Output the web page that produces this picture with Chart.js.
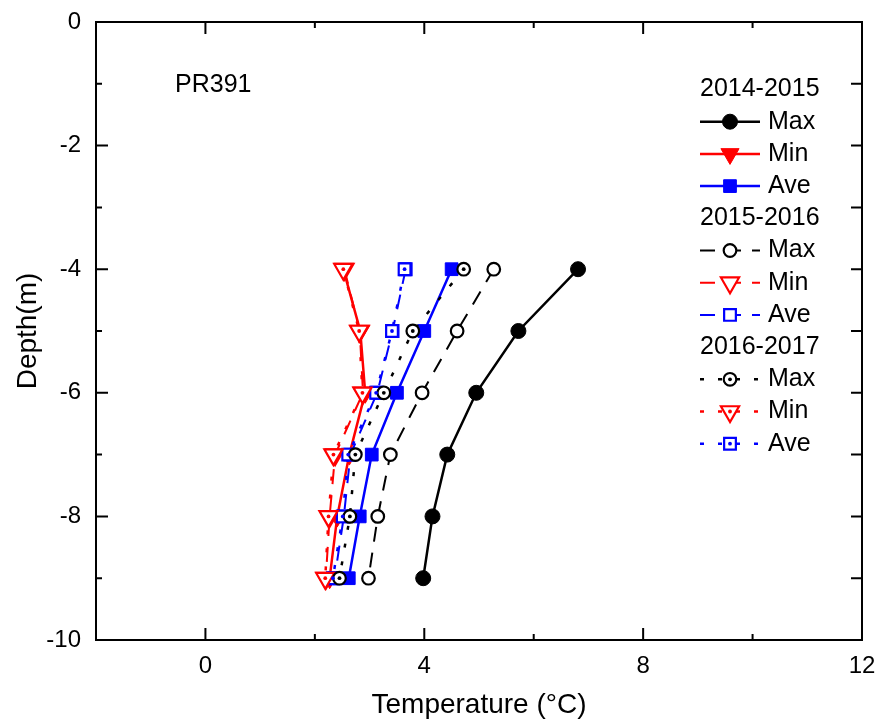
<!DOCTYPE html>
<html>
<head>
<meta charset="utf-8">
<title>PR391 ground temperature profile</title>
<script src="https://cdn.jsdelivr.net/npm/chart.js@4.4.1/dist/chart.umd.min.js"></script>
<style>
  html, body { margin: 0; padding: 0; background: #fff; }
  #wrap { width: 882px; height: 723px; }
</style>
</head>
<body>
<div id="wrap"><canvas id="profile" width="882" height="723"></canvas></div>
<script>
// depth of each sensor (m) and seasonal temperatures (°C)
const depths = [-4, -5, -6, -7, -8, -9];
const seasons = ['2014-2015', '2015-2016', '2016-2017'];
const statLabels = ['Max', 'Min', 'Ave'];
const site = 'PR391';

const max1415 = [6.81, 5.72, 4.95, 4.42, 4.15, 3.98];
const min1415 = [2.52, 2.83, 2.92, 2.63, 2.41, 2.27];
const ave1415 = [4.50, 4.00, 3.50, 3.04, 2.82, 2.62];

const max1516 = [5.27, 4.60, 3.96, 3.38, 3.15, 2.98];
const min1516 = [2.54, 2.82, 2.88, 2.37, 2.27, 2.20];
const ave1516 = [3.66, 3.42, 3.14, 2.65, 2.53, 2.36];

const max1617 = [4.72, 3.79, 3.26, 2.74, 2.64, 2.45];
const min1617 = [2.52, 2.81, 2.87, 2.34, 2.25, 2.19];
const ave1617 = [3.64, 3.41, 3.12, 2.61, 2.51, 2.33];

const FONT = "'Liberation Sans', Arial, sans-serif";
const colors = ['#000000', '#ff0000', '#0000ff'];

// per season: solid, dashed, dotted
const seasonDash = [[], [15, 11], [4, 14]];
const seasonWidth = [2.5, 2, 2.5];

// per statistic: circle, down triangle, square
const markerStyle = ['circle', 'triangle', 'rect'];
const markerRotation = [0, 180, 0];
const filledRadius = [7.5, 10.5, 9];
const openRadius = [6.3, 10.5, 8.3];

const series = [
  [max1415, min1415, ave1415],
  [max1516, min1516, ave1516],
  [max1617, min1617, ave1617]
];

const toPoints = vals => vals.map((v, i) => ({ x: v, y: depths[i] }));

const datasets = [];
series.forEach((group, s) => {
  group.forEach((vals, k) => {
    const filled = s === 0;
    datasets.push({
      label: seasons[s] + ' ' + statLabels[k],
      data: toPoints(vals),
      showLine: true,
      borderColor: colors[k],
      borderWidth: seasonWidth[s],
      borderDash: seasonDash[s],
      pointStyle: markerStyle[k],
      pointRotation: markerRotation[k],
      pointRadius: filled ? filledRadius[k] : openRadius[k],
      pointBackgroundColor: filled ? colors[k] : '#ffffff',
      pointBorderColor: colors[k],
      pointBorderWidth: filled ? 1 : 2.2,
      order: (3 - s) * 10 + k,
      season: s,
      stat: k
    });
  });
});

// 2016-2017 markers carry a small centre dot
series[2].forEach((vals, k) => {
  datasets.push({
    label: seasons[2] + ' ' + statLabels[k] + ' dot',
    data: toPoints(vals),
    showLine: false,
    pointStyle: 'circle',
    pointRadius: 1.9,
    pointBackgroundColor: colors[k],
    pointBorderWidth: 0,
    order: 0
  });
});

function marker(ctx, ds, x, y) {
  ctx.save();
  ctx.setLineDash([]);
  ctx.fillStyle = ds.pointBackgroundColor;
  ctx.strokeStyle = ds.pointBorderColor;
  ctx.lineWidth = ds.pointBorderWidth;
  Chart.helpers.drawPoint(ctx, {
    pointStyle: ds.pointStyle,
    rotation: ds.pointRotation,
    radius: ds.pointRadius,
    borderWidth: ds.pointBorderWidth
  }, x, y);
  if (ds.season === 2) {
    ctx.fillStyle = ds.pointBorderColor;
    ctx.beginPath();
    ctx.arc(x, y, 1.9, 0, Math.PI * 2);
    ctx.fill();
  }
  ctx.restore();
}

// box around the plot with inward ticks on all four sides
const framePlugin = {
  id: 'frame',
  afterDatasetsDraw(chart) {
    const { ctx, chartArea: a, scales: { x, y } } = chart;
    ctx.save();
    ctx.strokeStyle = '#000';
    ctx.lineWidth = 2;
    ctx.strokeRect(a.left, a.top, a.right - a.left, a.bottom - a.top);
    ctx.beginPath();
    x.ticks.forEach(t => {
      const px = x.getPixelForValue(t.value);
      const len = t.value % 4 === 0 ? 12 : 6;
      ctx.moveTo(px, a.bottom); ctx.lineTo(px, a.bottom - len);
      ctx.moveTo(px, a.top); ctx.lineTo(px, a.top + len);
    });
    y.ticks.forEach(t => {
      const py = y.getPixelForValue(t.value);
      const len = t.value % 2 === 0 ? 12 : 6;
      ctx.moveTo(a.left, py); ctx.lineTo(a.left + len, py);
      ctx.moveTo(a.right, py); ctx.lineTo(a.right - 11, py);
    });
    ctx.stroke();
    ctx.restore();
  }
};

// site label and the grouped season legend
const legendPlugin = {
  id: 'seasonLegend',
  afterDraw(chart) {
    const ctx = chart.ctx;
    const top = 89.5;
    const step = 32.2;
    ctx.save();
    ctx.fillStyle = '#000';
    ctx.textBaseline = 'middle';
    ctx.textAlign = 'left';
    ctx.font = '25px ' + FONT;
    ctx.fillText(site, 175, 85);

    let row = 0;
    seasons.forEach((season, s) => {
      ctx.fillStyle = '#000';
      ctx.fillText(season, 700, top + row * step);
      row++;
      statLabels.forEach((stat, k) => {
        const ds = chart.data.datasets.find(d => d.season === s && d.stat === k);
        const yy = top + row * step;
        ctx.save();
        ctx.strokeStyle = ds.borderColor;
        ctx.lineWidth = ds.borderWidth;
        ctx.setLineDash(ds.borderDash);
        ctx.beginPath();
        ctx.moveTo(700, yy);
        ctx.lineTo(760, yy);
        ctx.stroke();
        ctx.restore();
        marker(ctx, ds, 730, yy);
        ctx.fillStyle = '#000';
        ctx.fillText(stat, 768, yy);
        row++;
      });
    });
    ctx.restore();
  }
};

new Chart(document.getElementById('profile'), {
  type: 'scatter',
  data: { datasets },
  options: {
    responsive: false,
    animation: false,
    events: [],
    layout: { padding: { top: 22, right: 20, left: 0, bottom: 0 } },
    plugins: {
      legend: { display: false },
      tooltip: { enabled: false }
    },
    scales: {
      x: {
        type: 'linear',
        position: 'bottom',
        min: -2,
        max: 12,
        ticks: {
          stepSize: 2,
          autoSkip: false,
          maxRotation: 0,
          color: '#000',
          padding: 12,
          font: { family: FONT, size: 24 },
          callback: v => (v % 4 === 0 ? String(v) : '')
        },
        grid: { display: false, drawTicks: false },
        border: { display: false },
        title: {
          display: true,
          text: 'Temperature (°C)',
          color: '#000',
          font: { family: FONT, size: 28 },
          padding: { top: 0, bottom: 1 }
        },
        afterFit: s => {
          s.height = 83;
          s.paddingLeft = 0;
          s.paddingRight = 0;
        }
      },
      y: {
        type: 'linear',
        min: -10,
        max: 0,
        ticks: {
          stepSize: 1,
          autoSkip: false,
          color: '#000',
          padding: 15,
          font: { family: FONT, size: 24 },
          callback: v => (v % 2 === 0 ? String(v) : '')
        },
        grid: { display: false, drawTicks: false },
        border: { display: false },
        title: {
          display: true,
          text: 'Depth(m)',
          color: '#000',
          font: { family: FONT, size: 28 },
          padding: { top: 11, bottom: 0 }
        },
        afterFit: s => {
          s.width = 96;
          s.paddingTop = 0;
          s.paddingBottom = 0;
        }
      }
    }
  },
  plugins: [framePlugin, legendPlugin]
});
</script>
</body>
</html>
